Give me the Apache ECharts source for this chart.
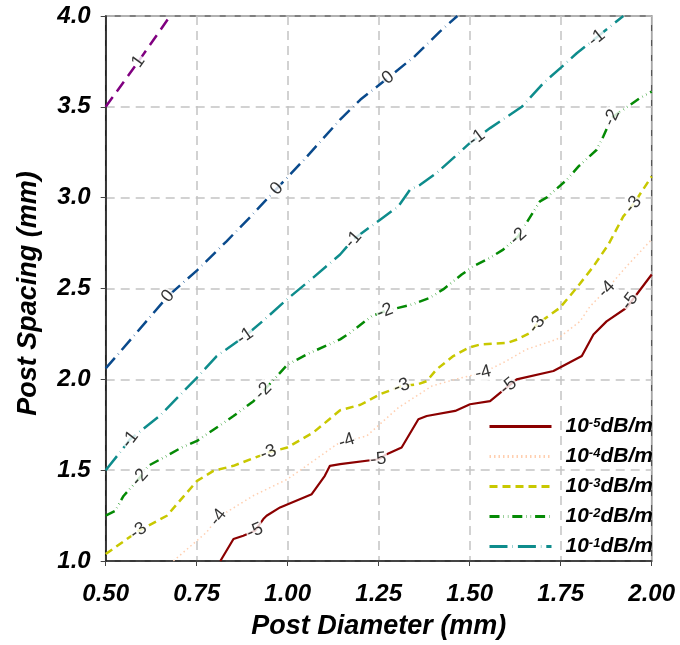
<!DOCTYPE html>
<html>
<head>
<meta charset="utf-8">
<script src="https://cdn.jsdelivr.net/npm/echarts@6/dist/echarts.min.js"></script>
<style>
  html, body { margin: 0; padding: 0; background: #fff; }
  #chart { width: 680px; height: 645px; }
</style>
</head>
<body>
<div id="chart"></div>
<script>
// Axis ticks (mm)
const xTicks = [0.50, 0.75, 1.00, 1.25, 1.50, 1.75, 2.00];
const yTicks = [1.0, 1.5, 2.0, 2.5, 3.0, 3.5, 4.0];

// Contour lines of log10(loss, dB/m): [post diameter, post spacing]
const contourP1 = [[0.5, 3.5], [0.59, 3.75], [0.677, 4.0]];
const contour0 = [[0.5, 2.06], [0.585, 2.257], [0.671, 2.458], [0.751, 2.6], [0.832, 2.76], [0.9, 2.9],
  [0.97, 3.05], [1.05, 3.22], [1.144, 3.43], [1.2, 3.54], [1.276, 3.66], [1.35, 3.78], [1.418, 3.914], [1.466, 4.0]];
const contourM1 = [[0.5, 1.5], [0.54, 1.6], [0.567, 1.67], [0.649, 1.8], [0.751, 2.01], [0.805, 2.128],
  [0.883, 2.238], [0.942, 2.339], [0.999, 2.442], [1.07, 2.56], [1.144, 2.687], [1.18, 2.77], [1.254, 2.879],
  [1.304, 2.952], [1.336, 3.044], [1.364, 3.071], [1.409, 3.136], [1.46, 3.227], [1.5, 3.3], [1.556, 3.383],
  [1.643, 3.5], [1.702, 3.63], [1.753, 3.72], [1.794, 3.795], [1.84, 3.868], [1.922, 4.0]];
const contourM2 = [[0.5, 1.25], [0.526, 1.276], [0.549, 1.358], [0.594, 1.46], [0.617, 1.524], [0.668, 1.579],
  [0.708, 1.624], [0.751, 1.661], [0.851, 1.798], [0.906, 1.88], [0.933, 1.936], [0.999, 2.08], [1.052, 2.137],
  [1.144, 2.22], [1.171, 2.256], [1.231, 2.348], [1.267, 2.375], [1.341, 2.412], [1.391, 2.449], [1.427, 2.495],
  [1.478, 2.577], [1.51, 2.622], [1.555, 2.668], [1.592, 2.714], [1.633, 2.787], [1.693, 2.98], [1.711, 3.0],
  [1.767, 3.099], [1.799, 3.172], [1.849, 3.264], [1.867, 3.337], [1.89, 3.44], [1.968, 3.549], [2.0, 3.584]];
const contourM3 = [[0.5, 1.038], [0.59, 1.166], [0.668, 1.249], [0.751, 1.441], [0.796, 1.496], [0.851, 1.524],
  [0.947, 1.597], [0.999, 1.625], [1.07, 1.707], [1.098, 1.753], [1.144, 1.83], [1.2, 1.86], [1.254, 1.918],
  [1.313, 1.963], [1.357, 1.972], [1.382, 1.99], [1.409, 2.055], [1.455, 2.128], [1.497, 2.174], [1.529, 2.192],
  [1.602, 2.2], [1.631, 2.22], [1.667, 2.257], [1.684, 2.302], [1.748, 2.394], [1.794, 2.504], [1.84, 2.622],
  [1.881, 2.742], [1.922, 2.897], [1.949, 2.962], [2.0, 3.117]];
const contourM4 = [[0.686, 1.0], [0.777, 1.158], [0.809, 1.24], [0.905, 1.359], [0.999, 1.45], [1.07, 1.55],
  [1.135, 1.643], [1.162, 1.661], [1.217, 1.688], [1.304, 1.844], [1.396, 1.963], [1.46, 2.0], [1.537, 2.037],
  [1.6, 2.1], [1.656, 2.165], [1.739, 2.22], [1.803, 2.319], [1.83, 2.4], [1.876, 2.495], [1.931, 2.622], [2.0, 2.77]];
const contourM5 = [[0.815, 1.0], [0.851, 1.121], [0.878, 1.139], [0.91, 1.166], [0.933, 1.231], [0.942, 1.249],
  [0.979, 1.295], [1.066, 1.368], [1.102, 1.469], [1.116, 1.524], [1.144, 1.533], [1.249, 1.56], [1.272, 1.588],
  [1.313, 1.625], [1.359, 1.78], [1.382, 1.798], [1.46, 1.826], [1.501, 1.863], [1.556, 1.88], [1.606, 1.963],
  [1.629, 2.0], [1.73, 2.046], [1.808, 2.128], [1.84, 2.247], [1.876, 2.319], [1.931, 2.394], [2.0, 2.577]];

// Inline contour labels: where each level value is written on its line
const labelsP1 = [[0.59, 3.75]];
const labels0 = [[0.671, 2.458], [0.97, 3.05], [1.276, 3.66]];
const labelsM1 = [[0.567, 1.67], [0.883, 2.238], [1.18, 2.77], [1.519, 3.33], [1.849, 3.88]];
const labelsM2 = [[0.594, 1.46], [0.933, 1.936], [1.267, 2.375], [1.633, 2.787], [1.89, 3.44]];
const labelsM3 = [[0.59, 1.166], [0.947, 1.597], [1.313, 1.963], [1.684, 2.302], [1.949, 2.962]];
const labelsM4 = [[0.809, 1.24], [1.162, 1.661], [1.537, 2.037], [1.876, 2.495]];
const labelsM5 = [[0.91, 1.166], [1.249, 1.56], [1.606, 1.963], [1.94, 2.43]];

// Level exponents and legend entries
const levels = ['1', '0', '-1', '-2', '-3', '-4', '-5'];
const legendLevels = ['-5', '-4', '-3', '-2', '-1'];

const FONT = '"Liberation Sans", Arial, Helvetica, sans-serif';

const lineDefs = [
  { level: '1',  data: contourP1, labels: labelsP1, color: '#800080', width: 2.5, type: [12, 7] },
  { level: '0',  data: contour0,  labels: labels0,  color: '#0a4a8c', width: 2.5, type: [14, 5, 0.4, 5] },
  { level: '-1', data: contourM1, labels: labelsM1, color: '#0e8c8c', width: 2.5, type: [18, 5, 0.4, 5] },
  { level: '-2', data: contourM2, labels: labelsM2, color: '#058a05', width: 2.5, type: [10, 4, 0.4, 4, 0.4, 4] },
  { level: '-3', data: contourM3, labels: labelsM3, color: '#c8c800', width: 2.5, type: [8, 5] },
  { level: '-4', data: contourM4, labels: labelsM4, color: '#ffcfb0', width: 1.5, type: [1.5, 3] },
  { level: '-5', data: contourM5, labels: labelsM5, color: '#8b0000', width: 2.2, type: 'solid' }
];

const seriesName = lv => '10' + lv + 'dB/m';

function buildSeries(rotations) {
  const lines = lineDefs.map(d => ({
    name: seriesName(d.level),
    type: 'line',
    data: d.data,
    showSymbol: false,
    symbol: 'none',
    smooth: false,
    silent: true,
    z: 3,
    lineStyle: { color: d.color, width: d.width, type: d.type, cap: 'butt' },
    itemStyle: { color: d.color }
  }));
  const labelSeries = lineDefs.map((d, i) => ({
    name: 'label' + d.level,
    type: 'scatter',
    symbolSize: 1,
    silent: true,
    z: 5,
    itemStyle: { color: 'rgba(0,0,0,0)' },
    data: d.labels.map((p, j) => ({
      value: p,
      label: {
        show: true,
        position: 'inside',
        formatter: d.level,
        rotate: rotations ? rotations[i][j] : 0,
        fontFamily: FONT,
        fontSize: 18,
        color: '#000',
        backgroundColor: '#fff',
        padding: [0, 1]
      }
    }))
  }));
  return lines.concat(labelSeries);
}

const chart = echarts.init(document.getElementById('chart'), null, { renderer: 'canvas' });

const axisFont = { fontFamily: FONT, fontStyle: 'italic', fontWeight: 'bold', color: '#000' };

const option = {
  animation: false,
  backgroundColor: '#fff',
  grid: {
    left: 105.7, right: 28.3, top: 16, bottom: 83.3,
    show: true, borderColor: '#555', borderWidth: 1.5, backgroundColor: 'transparent'
  },
  legend: {
    orient: 'vertical',
    left: 483,
    top: 411,
    itemWidth: 62,
    itemHeight: 14,
    itemGap: 9,
    data: legendLevels.map(seriesName),
    itemStyle: { color: 'rgba(0,0,0,0)', borderWidth: 0 },
    lineStyle: { width: 3 },
    formatter: name => {
      const lv = name.slice(2, name.indexOf('dB'));
      return '10{s|' + lv + '}dB/m';
    },
    textStyle: {
      fontFamily: FONT, fontSize: 21, fontStyle: 'italic', fontWeight: 'bold', color: '#000',
      lineHeight: 20, padding: [0, 0, 0, 9],
      rich: {
        s: { fontFamily: FONT, fontSize: 13, fontStyle: 'italic', fontWeight: 'bold', color: '#000',
             verticalAlign: 'top', lineHeight: 12 }
      }
    }
  },
  xAxis: {
    type: 'value',
    min: xTicks[0], max: xTicks[xTicks.length - 1], interval: 0.25,
    name: 'Post Diameter (mm)',
    nameLocation: 'middle',
    nameGap: 52,
    nameTextStyle: Object.assign({ fontSize: 27 }, axisFont),
    axisLine: { show: true, onZero: false, lineStyle: { color: '#222', width: 1.5 } },
    axisTick: { show: true, length: 5, lineStyle: { color: '#444', width: 1 } },
    axisLabel: Object.assign({ margin: 21, fontSize: 24, formatter: v => v.toFixed(2) }, axisFont),
    splitLine: { show: true, lineStyle: { color: '#c4c4c4', width: 1.5, type: [9, 6] } }
  },
  yAxis: {
    type: 'value',
    min: yTicks[0], max: yTicks[yTicks.length - 1], interval: 0.5,
    name: 'Post Spacing (mm)',
    nameLocation: 'middle',
    nameGap: 64,
    nameTextStyle: Object.assign({ fontSize: 27, padding: [0, 10, 0, 0] }, axisFont),
    axisLine: { show: true, onZero: false, lineStyle: { color: '#111', width: 1.5 } },
    axisTick: { show: true, length: 5, lineStyle: { color: '#444', width: 1 } },
    axisLabel: Object.assign({ margin: 15, fontSize: 24, formatter: v => v.toFixed(1) }, axisFont),
    splitLine: { show: true, lineStyle: { color: '#c4c4c4', width: 1.5, type: [9, 6] } }
  },
  series: buildSeries(null)
};

chart.setOption(option);

// Turn each inline label so it runs along the local direction of its contour
function labelAngle(line, pt) {
  const px = chart.convertToPixel({ gridIndex: 0 }, pt);
  let best = null, bestD = Infinity;
  for (let k = 0; k < line.length - 1; k++) {
    const a = chart.convertToPixel({ gridIndex: 0 }, line[k]);
    const b = chart.convertToPixel({ gridIndex: 0 }, line[k + 1]);
    const dx = b[0] - a[0], dy = b[1] - a[1];
    const len2 = dx * dx + dy * dy || 1;
    let t = ((px[0] - a[0]) * dx + (px[1] - a[1]) * dy) / len2;
    t = Math.max(0, Math.min(1, t));
    const cx = a[0] + t * dx, cy = a[1] + t * dy;
    const dd = (px[0] - cx) ** 2 + (px[1] - cy) ** 2;
    if (dd < bestD) { bestD = dd; best = [dx, dy]; }
  }
  let ang = -Math.atan2(best[1], best[0]) * 180 / Math.PI;
  if (ang > 90) ang -= 180;
  if (ang < -90) ang += 180;
  return ang;
}

const rotations = lineDefs.map(d => d.labels.map(p => labelAngle(d.data, p)));
chart.setOption({ series: buildSeries(rotations) });
</script>
</body>
</html>
